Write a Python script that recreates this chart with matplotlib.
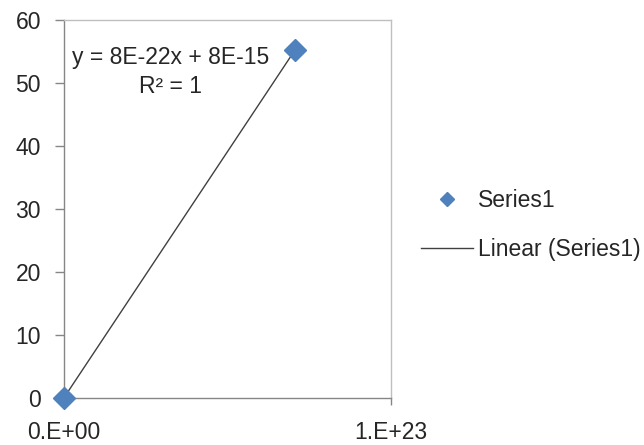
import numpy as np
import matplotlib
matplotlib.use("Agg")
import matplotlib.pyplot as plt

plt.rcParams['font.family'] = ['Liberation Sans', 'DejaVu Sans']

x_vals = [0.0, 7.06e22]
y_vals = [0.0, 55.2]
x_ticks = [0.0, 1e23]
x_tick_labels = ["0.E+00", "1.E+23"]
y_ticks = [0, 10, 20, 30, 40, 50, 60]
series_name = "Series1"
trend_name = "Linear (Series1)"
eq_text = "y = 8E-22x + 8E-15"
r2_text = "R² = 1"

FS = 16.5

fig = plt.figure(figsize=(6.44, 4.45), dpi=100)
ax = fig.add_axes([64/644, 1-397.7/445, (391-64)/644, (397.7-20)/445])

coef = np.polyfit(x_vals, y_vals, 1)
xs = np.array([min(x_vals), max(x_vals)])
ax.plot(xs, np.polyval(coef, xs), color='#404040', lw=1.0, label=trend_name, zorder=2)
ax.plot(x_vals, y_vals, linestyle='none', marker='D', markersize=11.5,
        color='#4F81BD', label=series_name, zorder=3, clip_on=False)

ax.set_xlim(0, 1e23)
ax.set_ylim(0, 60)
ax.set_xticks(x_ticks)
ax.set_xticklabels(x_tick_labels)
ax.set_yticks(y_ticks)

for s in ['left', 'bottom']:
    ax.spines[s].set_color('#868686')
    ax.spines[s].set_linewidth(1.0)
for s in ['top', 'right']:
    ax.spines[s].set_color('#BFBFBF')
    ax.spines[s].set_linewidth(1.0)

ax.tick_params(axis='y', direction='out', length=6.5, width=1, color='#868686',
               pad=10, labelsize=FS, labelcolor='#262626')
ax.tick_params(axis='x', direction='out', length=5, width=1, color='#868686',
               pad=12, labelsize=FS, labelcolor='#262626')

ax.text(0.327, 0.90, eq_text, transform=ax.transAxes, ha='center', va='center',
        fontsize=FS, color='#262626')
ax.text(0.327, 0.825, r2_text, transform=ax.transAxes, ha='center', va='center',
        fontsize=FS, color='#262626')

h, l = ax.get_legend_handles_labels()
leg = fig.legend(h[::-1], l[::-1], loc='center left', bbox_to_anchor=(400/644, 1-225/445),
                 frameon=False, fontsize=FS, markerscale=0.65, handlelength=2.3,
                 labelspacing=1.1, handletextpad=0.2)
for t in leg.get_texts():
    t.set_color('#262626')

fig.savefig('out.png', dpi=100)
